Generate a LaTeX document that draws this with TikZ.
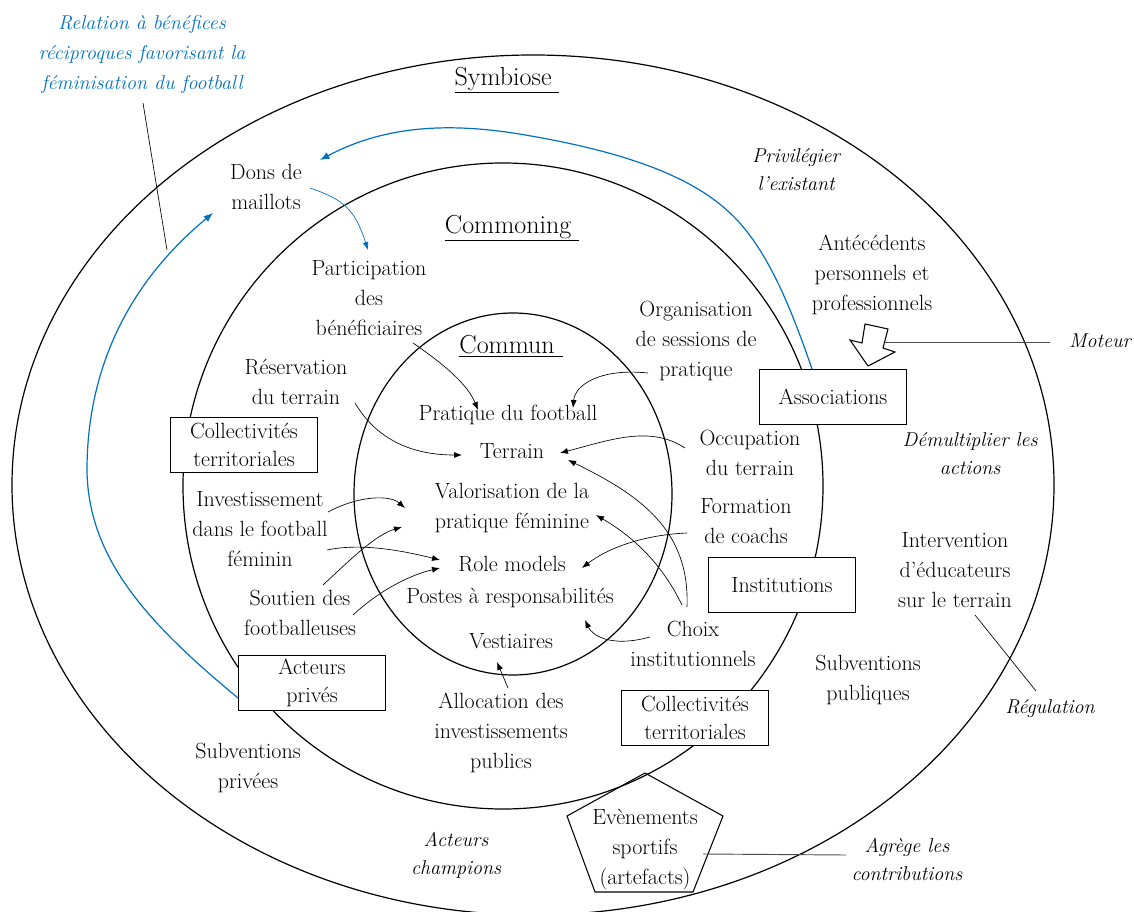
\documentclass[tikz,border=0pt]{standalone}
\usepackage{fontspec}
\usepackage{xcolor}
\usepackage{tikz}
\usetikzlibrary{arrows.meta}
\definecolor{bleu}{RGB}{0,112,192}

\begin{document}
\begin{tikzpicture}[x=0.75pt, y=-0.75pt,
    txt/.style={align=center, inner sep=1pt, font=\fontsize{16.5}{22.5}\selectfont},
    lab/.style={align=center, inner sep=1pt, font=\fontsize{15}{21}\selectfont\itshape},
    titre/.style={inner sep=1pt, font=\fontsize{19.5}{24}\selectfont},
    boite/.style={draw, fill=white, line width=0.8pt, align=center, inner sep=0pt,
        minimum width=110pt, minimum height=41pt, font=\fontsize{16.5}{21}\selectfont},
    fl/.style={-{Latex[length=6pt,width=4.5pt]}, line width=0.5pt},
    fb/.style={-{Latex[length=7pt,width=5.5pt]}, bleu, line width=0.9pt}]
        \useasboundingbox (0,0) rectangle (1134,912);
        \clip (0,0) rectangle (1134,912);

        % les trois cercles
        \draw[line width=0.9pt] (533,485) ellipse [x radius=521, y radius=430];
        \draw[line width=0.9pt] (503,486) ellipse [x radius=320, y radius=323];
        \draw[line width=0.9pt] (513,494) ellipse [x radius=159, y radius=181];

        \node[titre] (sym) at (507,80) {\underline{Symbiose\ }};
        \node[titre] (commoning) at (512,228) {\underline{Commoning\ }};
        \node[titre] (commun) at (511,346) {\underline{Commun\ }};

        % acteurs
        \node[boite] (asso) at (833,397) {Associations};
        \node[boite] (coll1) at (244,445) {Collectivités\\territoriales};
        \node[boite] (inst) at (782,585) {Institutions};
        \node[boite] (acteurs) at (312,683) {Acteurs\\privés};
        \node[boite] (coll2) at (695,718) {Collectivités\\territoriales};

        % Symbiose
        \node[lab, text=bleu, font=\fontsize{15}{22.5}\selectfont\itshape] (relation) at (142,55)
            {Relation à bénéfices\\réciproques favorisant la\\féminisation du football};
        \node[txt] (dons) at (266,187) {Dons de\\maillots};
        \node[lab] (privil) at (796,170) {Privilégier\\l’existant};
        \node[txt] (antec) at (872,275) {Antécédents\\personnels et\\professionnels};
        \node[lab] (moteur) at (1100,341) {Moteur};
        \node[lab] (demult) at (970,454) {Démultiplier les\\actions};
        \node[txt] (interv) at (955,570) {Intervention\\d’éducateurs\\sur le terrain};
        \node[txt] (subpub) at (868,680) {Subventions\\publiques};
        \node[lab] (regul) at (1050,709) {Régulation};
        \node[txt] (subpriv) at (248,768) {Subventions\\privées};
        \node[lab] (champ) at (456,855) {Acteurs\\champions};
        \node[lab] (agrege) at (907,859) {Agrège les\\contributions};

        % Commoning
        \node[txt] (particip) at (369,298) {Participation\\des\\bénéficiaires};
        \node[txt] (orga) at (696,341) {Organisation\\de sessions de\\pratique};
        \node[txt] (reserv) at (296,382) {Réservation\\du terrain};
        \node[txt] (occup) at (750,453) {Occupation\\du terrain};
        \node[txt] (format) at (746,521) {Formation\\de coachs};
        \node[txt] (invest) at (260,529) {Investissement\\dans le football\\féminin};
        \node[txt] (soutien) at (300,613) {Soutien des\\footballeuses};
        \node[txt] (choix) at (693,644) {Choix\\institutionnels};
        \node[txt] (alloc) at (501,733) {Allocation des\\investissements\\publics};

        % Commun
        \node[txt] (pratique) at (508,415) {Pratique du football};
        \node[txt] (terrain) at (512,451) {Terrain};
        \node[txt] (valor) at (512,508) {Valorisation de la\\pratique féminine};
        \node[txt] (rolem) at (512,564) {Role models};
        \node[txt] (postes) at (510,598) {Postes à responsabilités};
        \node[txt] (vest) at (511,641) {Vestiaires};

        % fleches noires vers le commun
        \draw[fl] ([shift={(44,45)}]particip.center) .. controls (445,365) and (468,385) .. ([shift={(-30,-5)}]pratique.center);
        \draw[fl] ([shift={(-48,32)}]orga.center) .. controls (600,368) and (575,385) .. ([shift={(65,-7)}]pratique.center);
        \draw[fl] ([shift={(59,21)}]reserv.center) .. controls (380,445) and (420,455) .. ([shift={(-50,4)}]terrain.center);
        \draw[fl] ([shift={(-65,-5)}]occup.center) .. controls (650,425) and (610,440) .. ([shift={(48,2)}]terrain.center);
        \draw[fl] ([shift={(-6,-37)}]choix.center) .. controls (690,530) and (640,495) .. ([shift={(56,9)}]terrain.center);
        \draw[fl] ([shift={(-11,-39)}]choix.center) .. controls (660,560) and (630,535) .. ([shift={(84,7)}]valor.center);
        \draw[fl] ([shift={(-43,-7)}]choix.center) .. controls (610,648) and (592,635) .. ([shift={(75,22)}]postes.center);
        \draw[fl] ([shift={(-59,12)}]format.center) .. controls (640,535) and (605,550) .. ([shift={(70,4)}]rolem.center);
        \draw[fl] ([shift={(68,-17)}]invest.center) .. controls (360,495) and (390,495) .. ([shift={(-107,0)}]valor.center);
        \draw[fl] ([shift={(67,21)}]invest.center) .. controls (360,543) and (400,550) .. ([shift={(-72,-4)}]rolem.center);
        \draw[fl] ([shift={(23,-28)}]soutien.center) .. controls (350,560) and (375,535) .. ([shift={(-110,19)}]valor.center);
        \draw[fl] ([shift={(53,2)}]soutien.center) .. controls (380,590) and (410,575) .. ([shift={(-72,4)}]rolem.center);
        \draw[fl] ([shift={(7,-45)}]alloc.center) -- ([shift={(-14,21)}]vest.center);

        % fleches bleues
        \draw[fb] ([shift={(-21,-28)}]asso.center) .. controls (795,320) and (770,250) .. (730,213)
            .. controls (690,175) and (620,150) .. (513,133)
            .. controls (440,122) and (380,128) .. ([shift={(54,-27)}]dons.center);
        \draw[fb] ([shift={(-74,15)}]acteurs.center) .. controls (150,625) and (88,560) .. (87,470)
            .. controls (87,380) and (120,290) .. ([shift={(-53,26)}]dons.center);
        \draw[-{Latex[length=6pt,width=4.5pt]}, bleu, line width=0.5pt] ([shift={(44,1)}]dons.center)
            .. controls (345,200) and (355,210) .. ([shift={(-1,-48)}]particip.center);
        \coordinate (relpt) at (167,250);
        \draw[line width=0.5pt] ([shift={(1,48)}]relation.center) -- (relpt);

        % moteur
        \coordinate (flechept) at (884,342);
        \draw[black!70, line width=0.7pt] (flechept) -- ([shift={(-50,1)}]moteur.center);
        \draw[line width=0.8pt, fill=white] (865,324) -- (888,329) -- (883,348) -- (895,352)
            -- (868,366) -- (850,340) -- (862,343) -- cycle;

        % regulation
        \draw[line width=0.5pt] ([shift={(20,45)}]interv.center) -- ([shift={(-14,-18)}]regul.center);

        % evenements
        \draw[line width=0.8pt] (645,773) -- (723,816) -- (693,892) -- (595,892) -- (567,816) -- cycle;
        \node[txt] (evt) at (645,850) {Evènements\\sportifs\\(artefacts)};
        \draw[black!70, line width=0.7pt] ([shift={(58,4)}]evt.center) -- ([shift={(-61,-4)}]agrege.center);
    \end{tikzpicture}
\end{document}
